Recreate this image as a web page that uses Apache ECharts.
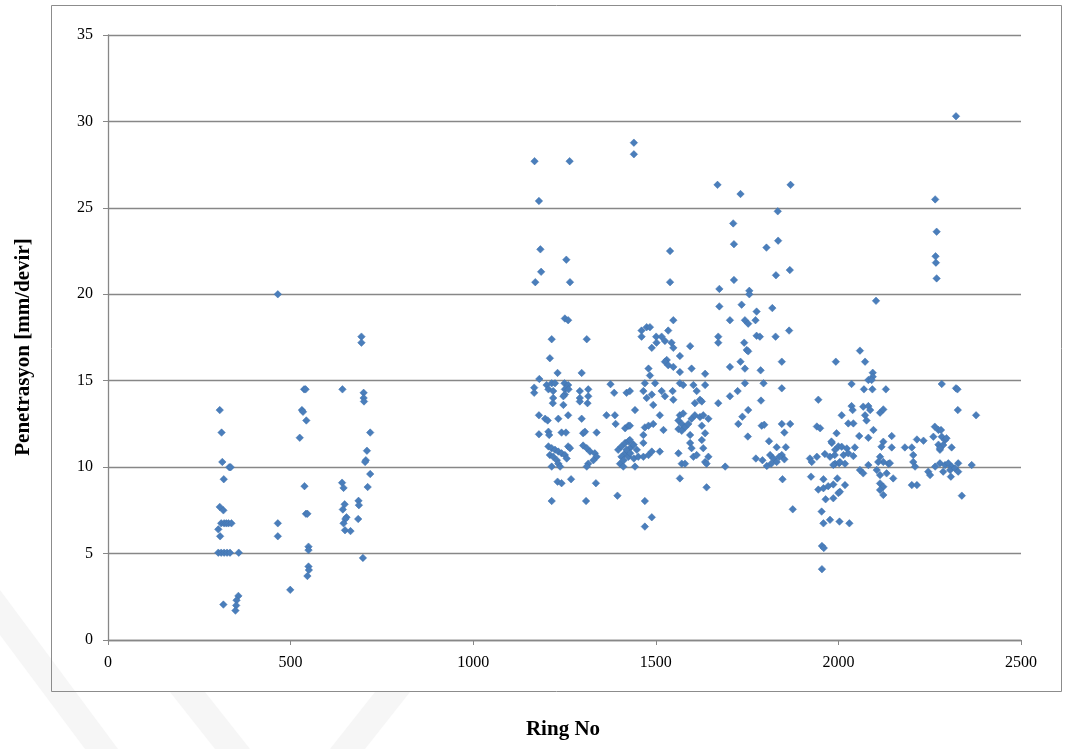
<!DOCTYPE html>
<html>
<head>
<meta charset="utf-8">
<script src="https://cdn.jsdelivr.net/npm/echarts@6/dist/echarts.min.js"></script>
<style>
html,body{margin:0;padding:0;background:#fff;}
#chart{width:1073px;height:749px;}
</style>
</head>
<body>
<div id="chart"></div>
<script>
// Axis ticks
const xTicks = [0, 500, 1000, 1500, 2000, 2500];
const yTicks = [0, 5, 10, 15, 20, 25, 30, 35];

// [Ring No, Penetrasyon], grouped by region
const groupA = [[306,13.3],[311,12.0],[313,10.3],[332,10.0],[336,10.0],[317,9.3],[306,7.7],[316,7.5],[310,6.75],[318,6.75],[324,6.75],[330,6.75],[338,6.75],[302,6.4],[307,6.0],[302,5.05],[310,5.05],[318,5.05],[326,5.05],[334,5.05],[358,5.05],[316,2.05],[357,2.55],[352,2.3],[351,2.0],[349,1.7]];

const groupB = [[465,20.0],[465,6.75],[465,6.0],[499,2.9],[537,14.5],[541,14.5],[531,13.3],[534,13.2],[543,12.7],[525,11.7],[538,8.9],[542,7.3],[546,7.3],[549,5.4],[549,5.2],[549,4.25],[550,4.05],[546,3.7]];

const groupC = [[642,14.5],[641,9.1],[645,8.8],[648,7.85],[643,7.55],[653,7.1],[650,7.0],[645,6.75],[649,6.35],[664,6.3],[686,8.05],[687,7.8],[685,7.0],[694,17.55],[694,17.2],[700,14.3],[700,14.0],[701,13.8],[718,12.0],[709,10.95],[706,10.4],[704,10.3],[718,9.6],[711,8.85],[698,4.75]];

const groupD = [[1168,27.7],[1264,27.7],[1180,25.4],[1184,22.6],[1255,22.0],[1186,21.3],[1170,20.7],[1265,20.7],
[1251,18.6],[1260,18.5],[1215,17.4],[1311,17.4],[1210,16.3],[1231,15.45],[1297,15.45],[1181,15.1],[1167,14.6],[1167,14.3],[1201,14.75],[1215,14.85],[1224,14.85],[1250,14.85],[1260,14.75],[1206,14.5],[1219,14.4],[1251,14.5],[1261,14.5],[1251,14.2],[1247,14.1],[1219,14.0],[1292,14.4],[1315,14.5],[1292,14.0],[1315,14.1],[1292,13.8],[1313,13.7],[1218,13.7],[1376,14.8],[1386,14.3],[1420,14.3],[1247,13.6],[1180,13.0],[1197,12.8],[1204,12.7],[1233,12.8],[1260,13.0],[1297,12.8],[1365,13.0],[1388,13.0],[1390,12.5],[1416,12.25],[1425,12.4],[1180,11.9],[1206,12.05],[1208,11.86],[1242,12.0],[1254,12.0],[1301,11.96],[1306,12.05],[1338,12.0],[1206,11.2],[1215,11.1],[1224,11.0],[1233,10.9],[1242,10.8],[1251,10.7],[1260,11.2],[1265,11.1],[1210,10.7],[1219,10.6],[1229,10.4],[1215,10.03],[1233,10.2],[1238,10.03],[1256,10.5],[1301,11.25],[1311,11.1],[1320,10.9],[1333,10.8],[1338,10.6],[1329,10.4],[1315,10.2],[1311,10.03],[1397,11.0],[1406,11.2],[1416,11.4],[1425,11.5],[1416,10.8],[1406,10.6],[1402,10.2],[1411,10.03],[1429,11.1],[1425,10.6],[1420,11.0],[1430,10.8],[1438,11.3],[1412,10.4],[1440,10.5],[1231,9.16],[1242,9.07],[1268,9.3],[1336,9.07],[1215,8.04],[1309,8.04],[1395,8.35]];

const groupE = [[1440,28.77],[1440,28.1],[1669,26.33],[1712,24.1],[1714,22.9],[1539,22.5],[1539,20.7],[1714,20.83],[1674,20.31],
[1674,19.3],[1703,18.5],[1548,18.5],[1475,18.1],[1484,18.1],[1461,17.9],[1461,17.55],[1534,17.9],[1501,17.55],[1516,17.55],[1671,17.55],[1671,17.2],[1502,17.2],[1489,16.9],[1525,17.3],[1543,17.2],[1548,16.9],[1594,17.0],[1566,16.43],[1530,16.2],[1525,16.1],[1534,15.9],[1548,15.8],[1566,15.5],[1598,15.7],[1635,15.4],[1480,15.7],[1484,15.3],[1703,15.8],[1470,14.85],[1498,14.85],[1566,14.85],[1575,14.75],[1603,14.75],[1635,14.75],[1429,14.4],[1466,14.4],[1489,14.2],[1516,14.4],[1525,14.1],[1546,14.4],[1612,14.4],[1621,13.9],[1607,13.7],[1626,13.8],[1548,13.9],[1475,14.0],[1443,13.3],[1493,13.6],[1511,13.0],[1671,13.7],[1703,14.1],[1429,12.4],[1470,12.3],[1480,12.4],[1493,12.5],[1521,12.15],[1466,11.86],[1566,13.0],[1575,13.1],[1562,12.7],[1571,12.5],[1580,12.3],[1589,12.5],[1598,12.8],[1607,13.0],[1621,12.9],[1630,13.0],[1644,12.8],[1562,12.2],[1571,12.1],[1594,11.86],[1626,12.4],[1635,11.96],[1429,11.57],[1439,11.3],[1448,11.0],[1466,11.4],[1452,10.6],[1466,10.6],[1480,10.7],[1489,10.9],[1511,10.9],[1443,10.03],[1594,11.4],[1598,11.1],[1603,10.6],[1612,10.7],[1626,11.57],[1630,11.1],[1644,10.6],[1635,10.3],[1562,10.8],[1571,10.2],[1580,10.2],[1639,10.2],[1690,10.03],[1566,9.35],[1639,8.83],[1470,8.04],[1489,7.1],[1470,6.56]];

const groupF = [[1732,25.8],[1834,24.8],[1835,23.1],[1803,22.7],[1829,21.1],[1867,21.4],[1756,20.2],[1756,20.0],[1869,26.33],
[1735,19.4],[1776,19.0],[1819,19.2],[1773,18.5],[1744,18.5],[1753,18.3],[1776,17.6],[1785,17.55],[1828,17.55],[1865,17.9],[1742,17.2],[1749,16.78],[1753,16.7],[1732,16.1],[1744,15.7],[1787,15.6],[1845,16.1],[1993,16.1],[1744,14.85],[1795,14.85],[1845,14.56],[1724,14.4],[1788,13.85],[1753,13.3],[1737,12.92],[1726,12.5],[1790,12.4],[1797,12.45],[1845,12.5],[1868,12.5],[1852,12.0],[1945,13.9],[1752,11.77],[1810,11.5],[1831,11.15],[1856,11.15],[1941,12.35],[1950,12.25],[1774,10.5],[1792,10.4],[1804,10.07],[1813,10.7],[1822,10.5],[1831,10.3],[1845,10.7],[1852,10.45],[1838,10.6],[1816,10.2],[1922,10.5],[1927,10.3],[1941,10.6],[1963,10.76],[1977,10.6],[1982,11.4],[1991,11.0],[2000,11.2],[1995,11.96],[1991,10.2],[1981,11.48],[1990,10.7],[1986,10.13],[2002,10.23],[1847,9.3],[1925,9.45],[1959,9.3],[1945,8.7],[1959,8.78],[1972,8.9],[1986,9.0],[1997,9.35],[1965,8.14],[1986,8.2],[2000,8.5],[1875,7.56],[1954,7.43],[1959,6.75],[1977,6.95],[2003,6.85],[1955,5.44],[1960,5.32],[1955,4.1]];

const groupG = [[2103,19.62],[2059,16.74],[2073,16.1],[2094,15.46],[2094,15.23],[2082,15.04],[2091,15.04],[2036,14.81],[2070,14.5],[2093,14.5],[2130,14.5],[2036,13.53],[2039,13.3],[2068,13.5],[2082,13.53],[2087,13.3],[2073,13.0],[2077,12.7],[2114,13.15],[2123,13.34],[2009,13.0],[2027,12.53],[2041,12.53],[2096,12.15],[2057,11.8],[2082,11.7],[2146,11.8],[2264,12.34],[2274,12.15],[2009,11.18],[2023,11.08],[2045,11.14],[2123,11.47],[2118,11.18],[2146,11.14],[2182,11.14],[2201,11.14],[2215,11.6],[2233,11.53],[2014,10.7],[2027,10.8],[2041,10.64],[2114,10.6],[2123,10.3],[2109,10.3],[2137,10.2],[2141,10.23],[2205,10.7],[2205,10.3],[2274,11.3],[2278,11.0],[2260,11.76],[2004,10.3],[2018,10.2],[2059,9.83],[2068,9.64],[2082,10.12],[2105,9.83],[2114,9.54],[2132,9.64],[2150,9.35],[2210,10.03],[2246,9.74],[2251,9.54],[2265,10.03],[2018,8.96],[2004,8.58],[2114,9.06],[2123,8.87],[2114,8.68],[2123,8.39],[2201,8.96],[2215,8.96],[2030,6.75]];

const groupH = [[2265,25.49],[2269,23.62],[2266,22.2],[2267,21.83],[2269,20.92],[2322,30.3],
[2283,14.81],[2322,14.56],[2326,14.5],[2327,13.3],[2377,13.0],[2281,12.15],[2283,11.76],[2292,11.57],[2296,11.67],[2287,11.28],[2278,11.1],[2310,11.14],[2278,10.22],[2292,10.12],[2301,10.22],[2310,10.03],[2287,9.74],[2306,9.83],[2319,9.93],[2328,10.22],[2328,9.74],[2308,9.45],[2365,10.12],[2338,8.35]];

const allPoints = [].concat(groupA, groupB, groupC, groupD, groupE, groupF, groupG, groupH);

const chart = echarts.init(document.getElementById('chart'), null, {renderer: 'canvas'});
const serif = 'Liberation Serif, Times New Roman, serif';
const gridCol = '#878787';
const markFill = '#f6f6f6';

chart.setOption({
  animation: false,
  backgroundColor: '#ffffff',
  grid: {left: 108, top: 35, right: 52, bottom: 109, containLabel: false},
  graphic: [
    {type: 'polygon', z: -10, silent: true, shape: {points: [[0,590],[0,635],[85,749],[118,749]]}, style: {fill: markFill}},
    {type: 'polygon', z: -10, silent: true, shape: {points: [[170,692],[205,692],[250,749],[215,749]]}, style: {fill: markFill}},
    {type: 'polygon', z: -10, silent: true, shape: {points: [[330,749],[365,749],[410,692],[375,692]]}, style: {fill: markFill}},
    {type: 'rect', shape: {x: 51.5, y: 5.5, width: 1010, height: 686}, style: {fill: 'none', stroke: '#8c8c8c', lineWidth: 1}, z: -5},
    {type: 'text', x: 563, y: 730, style: {text: 'Ring No', font: 'bold 21px ' + serif, fill: '#000', align: 'center', verticalAlign: 'middle'}},
    {type: 'text', x: 24, y: 347, rotation: Math.PI / 2, style: {text: 'Penetrasyon [mm/devir]', font: 'bold 21px ' + serif, fill: '#000', align: 'center', verticalAlign: 'middle'}}
  ],
  xAxis: {
    type: 'value', min: xTicks[0], max: xTicks[xTicks.length - 1], interval: 500,
    axisLine: {show: true, lineStyle: {color: gridCol, width: 1.3}},
    axisTick: {show: true, length: 5, lineStyle: {color: gridCol}},
    axisLabel: {color: '#000', fontFamily: serif, fontSize: 16, margin: 15, formatter: function (v) { return String(v); }},
    splitLine: {show: false}
  },
  yAxis: {
    type: 'value', min: yTicks[0], max: yTicks[yTicks.length - 1], interval: 5,
    axisLine: {show: true, lineStyle: {color: gridCol, width: 1.3}},
    axisTick: {show: true, length: 5, lineStyle: {color: gridCol}},
    axisLabel: {color: '#000', fontFamily: serif, fontSize: 16, margin: 15, formatter: function (v) { return String(v); }},
    splitLine: {show: true, lineStyle: {color: gridCol, width: 1.3}}
  },
  series: [{
    type: 'scatter',
    data: allPoints,
    symbol: 'diamond',
    symbolSize: 7.5,
    itemStyle: {color: '#4a7ebb', borderColor: '#3f70ad', borderWidth: 0.5, opacity: 1}
  }]
});
</script>
</body>
</html>
